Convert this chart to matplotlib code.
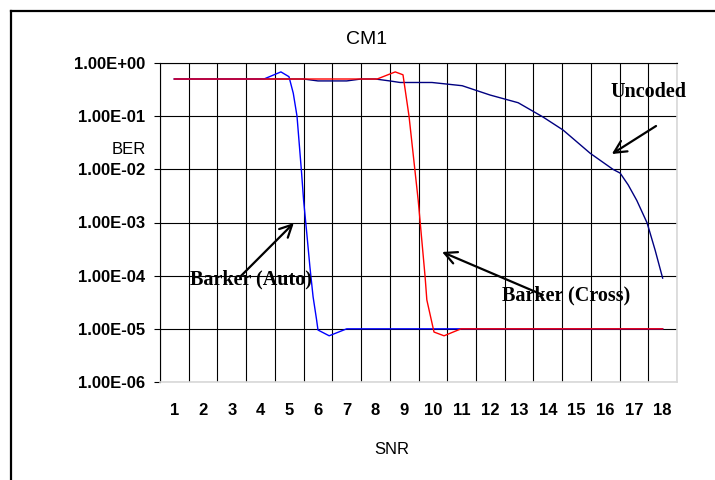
import matplotlib
matplotlib.use("Agg")
import matplotlib.pyplot as plt
from matplotlib.ticker import FixedLocator, FuncFormatter, NullFormatter
from matplotlib.lines import Line2D

# ---- data ----
snr_labels = list(range(1, 19))

uncoded_snr = [1, 2, 3, 4, 5, 5.5, 6.0, 7.0, 7.5, 8.0, 8.5, 8.86, 9.97, 11.02, 11.99,
               12.97, 13.84, 14.53, 15.48, 16.27, 16.52, 16.8, 17.1, 17.46, 17.74, 18.0]
uncoded_ber = [0.5, 0.5, 0.5, 0.5, 0.5, 0.5, 0.46, 0.46, 0.5, 0.5, 0.46, 0.43, 0.43, 0.374, 0.25,
               0.179, 0.096, 0.055, 0.020, 0.010, 0.0085, 0.0051, 0.0026, 0.00098, 0.0003, 0.00009]

auto_snr = [1, 2, 3, 4, 4.12, 4.71, 4.99, 5.14, 5.27, 5.43, 5.5, 5.61, 5.72, 5.83, 5.95, 6.0,
            6.39, 7.0, 8, 9, 10, 11, 12, 13, 14, 15, 16, 17, 18]
auto_ber = [0.5, 0.5, 0.5, 0.5, 0.5, 0.68, 0.553, 0.27, 0.1, 0.0085, 0.0026, 6.3e-4, 1.45e-4,
            4e-5, 1.5e-5, 9.5e-6, 7.4e-6, 1e-5, 1e-5, 1e-5, 1e-5, 1e-5, 1e-5, 1e-5, 1e-5,
            1e-5, 1e-5, 1e-5, 1e-5]

cross_snr = [1, 2, 3, 4, 5, 6, 7, 8, 8.06, 8.69, 8.96, 9.17, 9.49, 9.73, 9.79, 10.04,
             10.39, 10.98, 12, 13, 14, 15, 16, 17, 18]
cross_ber = [0.5, 0.5, 0.5, 0.5, 0.5, 0.5, 0.5, 0.5, 0.5, 0.68, 0.6, 0.1, 0.0026, 9.5e-5,
             3.5e-5, 8.7e-6, 7.4e-6, 1e-5, 1e-5, 1e-5, 1e-5, 1e-5, 1e-5, 1e-5, 1e-5]

y_ticks = [1e0, 1e-1, 1e-2, 1e-3, 1e-4, 1e-5, 1e-6]

# ---- figure ----
W, H = 715, 480
fig = plt.figure(figsize=(W / 100, H / 100), dpi=100)
fig.patch.set_facecolor("white")

left, right, top, bottom = 160, 677, 63, 382
ax = fig.add_axes([left / W, 1 - bottom / H, (right - left) / W, (bottom - top) / H])

ax.plot(uncoded_snr, uncoded_ber, color="#000080", lw=1.0, zorder=3)
ax.plot(auto_snr, auto_ber, color="#0000FF", lw=1.0, zorder=4)
ax.plot(cross_snr, cross_ber, color="#FF0000", lw=1.0, zorder=5)

ax.set_yscale("log")
ax.set_ylim(1e-6, 1e0)
ax.set_xlim(0.5, 18.5)

ax.yaxis.set_major_locator(FixedLocator(y_ticks))
ax.yaxis.set_minor_locator(FixedLocator([]))
ax.yaxis.set_major_formatter(FuncFormatter(lambda v, p: f"{v:.2E}"))
ax.yaxis.set_minor_formatter(NullFormatter())

ax.xaxis.set_major_locator(FixedLocator(snr_labels))
ax.xaxis.set_major_formatter(FuncFormatter(lambda v, p: f"{int(round(v))}"))
ax.xaxis.set_minor_locator(FixedLocator([i + 0.5 for i in range(0, 19)]))

ax.grid(True, which="major", axis="y", color="black", lw=0.8)
ax.grid(True, which="minor", axis="x", color="black", lw=0.8)
ax.grid(False, which="major", axis="x")
ax.set_axisbelow(True)

for lab in ax.get_yticklabels():
    lab.set_fontweight("bold")
for lab in ax.get_xticklabels():
    lab.set_fontweight("bold")

ax.tick_params(axis="y", which="major", length=4, width=0.8, color="black",
               labelsize=12, pad=6.5)
ax.tick_params(axis="x", which="major", length=0, labelsize=12, pad=15)
ax.tick_params(axis="x", which="minor", length=0)
plt.setp(ax.get_yticklabels(), family="Liberation Sans", fontweight="bold")
plt.setp(ax.get_xticklabels(), family="Liberation Sans", fontweight="bold")

ax.spines["left"].set_color("black")
ax.spines["left"].set_linewidth(0.8)
ax.spines["top"].set_color("black")
ax.spines["top"].set_linewidth(0.8)
ax.spines["bottom"].set_color("#d8d8d8")
ax.spines["bottom"].set_linewidth(1.2)
ax.spines["right"].set_color("#d8d8d8")
ax.spines["right"].set_linewidth(1.2)

# titles
fig.text(367 / W, 1 - 39 / H, "CM1", ha="center", va="center",
         fontsize=14, family="Liberation Sans")
fig.text(392 / W, 1 - 450 / H, "SNR", ha="center", va="center",
         fontsize=12, family="Liberation Sans")
fig.text(146 / W, 1 - 150 / H, "BER", ha="right", va="center",
         fontsize=12, family="Liberation Sans")

# annotations
ann_kw = dict(fontsize=14.5, fontweight="bold", family="Liberation Serif",
              ha="center", va="center", annotation_clip=False)
arrow_kw = dict(arrowstyle="->", color="black", lw=1.6, mutation_scale=22,
                shrinkA=0, shrinkB=0)

ax.text(17.49, 0.285, "Uncoded", zorder=6, clip_on=False,
        **{k: v for k, v in ann_kw.items() if k != "annotation_clip"})
ax.annotate("", xy=(16.23, 0.0194), xytext=(17.77, 0.0653),
            arrowprops=arrow_kw, annotation_clip=False, zorder=6)

ax.text(3.67, 8.3e-5, "Barker (Auto)", zorder=6, clip_on=False,
        **{k: v for k, v in ann_kw.items() if k != "annotation_clip"})
ax.annotate("", xy=(5.16, 9.8e-4), xytext=(3.32, 9.9e-5),
            arrowprops=arrow_kw, annotation_clip=False, zorder=6)

ax.text(14.63, 4.2e-5, "Barker (Cross)", zorder=6, clip_on=False,
        **{k: v for k, v in ann_kw.items() if k != "annotation_clip"})
ax.annotate("", xy=(10.32, 2.79e-4), xytext=(13.83, 4.33e-5),
            arrowprops=arrow_kw, annotation_clip=False, zorder=6)

# outer chart border (top and left visible; the rest lies outside the crop)
bx, by = 10.5 / W, 1 - 10.5 / H
fig.add_artist(Line2D([bx, 1.01], [by, by], transform=fig.transFigure,
                      color="black", lw=1.6))
fig.add_artist(Line2D([bx, bx], [by, -0.01], transform=fig.transFigure,
                      color="black", lw=1.6))

fig.savefig("out.png", dpi=100, facecolor="white")
